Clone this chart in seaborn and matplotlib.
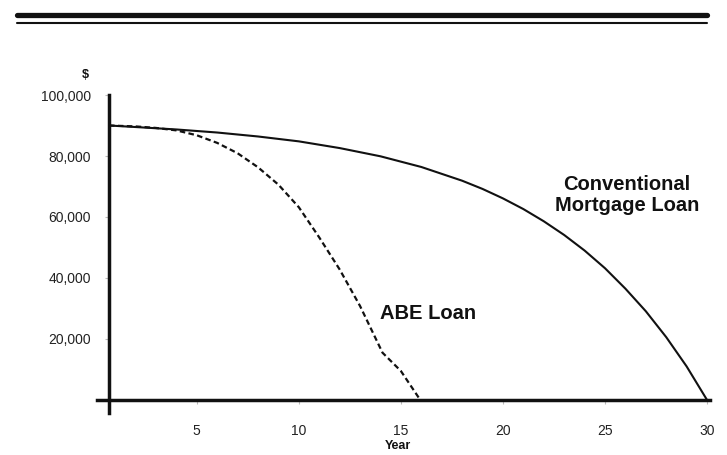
import numpy as np
import pandas as pd
import matplotlib.pyplot as plt
import seaborn as sns
from matplotlib.lines import Line2D

# Значения
conv_years = [0.7, 2, 4, 6, 8, 10, 12, 14, 16, 18, 19, 20, 21, 22, 23, 24, 25, 26, 27, 28, 29, 30]
conv_balance = [90000, 89500, 88700, 87700, 86400, 84800, 82600, 79900, 76400, 71900, 69200,
                66100, 62600, 58600, 54100, 49000, 43200, 36500, 29100, 20600, 11000, 0]

abe_years = [0.7, 2, 3, 4, 5, 6, 7, 8, 9, 10, 11, 12, 13, 14.1, 15, 15.95]
abe_balance = [90000, 89700, 89200, 88400, 86800, 84300, 80900, 76300, 70600, 63200,
               53300, 42800, 30800, 15500, 9500, 0]

y_ticks = [20000, 40000, 60000, 80000, 100000]
y_labels = ['20,000', '40,000', '60,000', '80,000', '100,000']
x_ticks = [5, 10, 15, 20, 25, 30]
x_labels = ['5', '10', '15', '20', '25', '30']

conv_df = pd.DataFrame({'year': conv_years, 'balance': conv_balance})
abe_df = pd.DataFrame({'year': abe_years, 'balance': abe_balance})

sns.set_theme(style='white')
plt.rcParams['font.family'] = ['Liberation Sans', 'DejaVu Sans']

fig = plt.figure(figsize=(7.27, 4.55), dpi=100)
ax = fig.add_axes([0.1303, 0.0874, 0.8563, 0.7038])

ink = '#111111'

# Кривые
sns.lineplot(data=conv_df, x='year', y='balance', ax=ax, color=ink, linewidth=1.5)
sns.lineplot(data=abe_df, x='year', y='balance', ax=ax, color=ink, linewidth=1.6,
             linestyle=(0, (2.5, 1.5)))

ax.set_xlim(0, 30.5)
ax.set_ylim(-5000, 100000)

# Оси крестом в начале координат
for side in ['top', 'right']:
    ax.spines[side].set_visible(False)
ax.spines['left'].set_position(('data', 0.7))
ax.spines['bottom'].set_position(('data', 0))
ax.spines['left'].set_bounds(-4300, 100000)
ax.spines['bottom'].set_bounds(0.1, 30.15)
for side in ['left', 'bottom']:
    ax.spines[side].set_linewidth(2.5)
    ax.spines[side].set_color(ink)

ax.set_yticks(y_ticks)
ax.set_yticklabels(y_labels)
ax.set_xticks(x_ticks)
ax.set_xticklabels(x_labels)
ax.tick_params(axis='y', length=3, width=0.8, color='#bbbbbb', pad=10,
               labelsize=10, labelcolor='#222222', direction='out', left=True)
ax.tick_params(axis='x', length=3, width=0.8, color='#bbbbbb', pad=14,
               labelsize=10, labelcolor='#222222', direction='out', bottom=True)

ax.set_xlabel('Year', fontsize=9, fontweight='bold', color=ink)
ax.xaxis.set_label_coords(0.487, -0.077)
ax.set_ylabel('')

# Подписи кривых
ax.text(26.08, 67200, 'Conventional\nMortgage Loan', ha='center', va='center',
        fontsize=14.5, fontweight='bold', color=ink, linespacing=1.15)
ax.text(16.35, 28500, 'ABE Loan', ha='center', va='center',
        fontsize=14.5, fontweight='bold', color=ink)

fig.text(0.117, 0.835, '$', ha='center', va='center', fontsize=9,
         fontweight='bold', color=ink)

# Двойная линейка сверху
fig.add_artist(Line2D([17 / 727, 707 / 727], [1 - 15 / 455, 1 - 15 / 455],
                      color=ink, linewidth=3.8))
fig.add_artist(Line2D([17 / 727, 707 / 727], [1 - 23 / 455, 1 - 23 / 455],
                      color=ink, linewidth=1.5))

fig.savefig('out.png', dpi=100, facecolor='white')
plt.close(fig)
